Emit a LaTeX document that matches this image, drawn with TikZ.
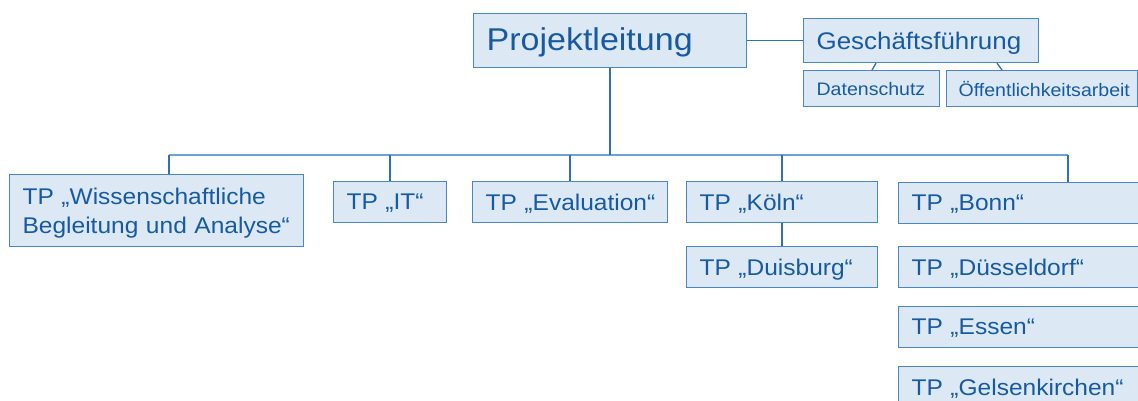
\documentclass[tikz,border=0pt]{standalone}
\usepackage{fontspec}
\setmainfont[FakeStretch=1.08]{Liberation Sans}
\usetikzlibrary{calc}
\definecolor{boxfill}{HTML}{DCE9F4}
\definecolor{boxline}{HTML}{4A87C4}
\definecolor{txt}{HTML}{175AA2}
\definecolor{conn}{HTML}{3070B5}
\definecolor{busc}{HTML}{6CA2D6}
\tikzset{
  bx/.style={draw=boxline, line width=1.2pt, fill=boxfill, text=txt, anchor=north west,
    inner xsep=13pt, inner ysep=0pt, align=left, text depth=0pt},
  tp/.style={bx, font=\fontsize{22.7}{29}\selectfont, minimum height=41},
  cn/.style={draw=conn, line width=1.3pt},
  bus/.style={draw=busc, line width=2pt}
}
\begin{document}
\begin{tikzpicture}[x=1pt,y=-1pt]
\clip (0,0) rectangle (1138,400);
\fill[white] (0,0) rectangle (1138,400);

% top level
\node[bx, font=\fontsize{31.5}{36}\selectfont, minimum width=273, text width=247, minimum height=54, text depth=3pt] (pl) at (473,13) {\mbox{Projektleitung}};
\node[bx, font=\fontsize{24}{28}\selectfont, minimum width=235, text width=209, minimum height=44] (gf) at (803,18) {\mbox{Geschäftsführung}};
\node[bx, font=\fontsize{18.1}{22}\selectfont, minimum width=136, text width=110, minimum height=36] (ds) at (803,70) {\mbox{Datenschutz}};
\node[bx, font=\fontsize{18.1}{22}\selectfont, minimum width=191, text width=167, inner xsep=12pt, minimum height=36] (oa) at (946,70) {\mbox{Öffentlichkeitsarbeit}};

% sub projects
\node[tp, minimum width=294, text width=268, minimum height=72, text depth=28pt] (wb) at (9,174) {TP „Wissenschaftliche\\Begleitung und Analyse“};
\node[tp, minimum width=113, text width=87] (it) at (333,181) {\mbox{TP „IT“}};
\node[tp, minimum width=195, text width=169] (ev) at (472,181) {\mbox{TP „Evaluation“}};
\node[tp, minimum width=191, text width=165] (kl) at (686,181) {\mbox{TP „Köln“}};
\node[tp, minimum width=191, text width=165] (du) at (686,246) {\mbox{TP „Duisburg“}};
\node[tp, minimum width=250, text width=224] (bn) at (898,182) {\mbox{TP „Bonn“}};
\node[tp, minimum width=250, text width=224] (ds2) at (898,246) {\mbox{TP „Düsseldorf“}};
\node[tp, minimum width=250, text width=224] (es) at (898,306) {\mbox{TP „Essen“}};
\node[tp, minimum width=250, text width=224] (ge) at (898,366) {\mbox{TP „Gelsenkirchen“}};

% connectors
\coordinate (busL) at (169,155);
\coordinate (busR) at (1068,155);
\coordinate (busM) at (pl.south |- busL);
\draw[cn] (pl.east) -- (gf.west);
\draw[cn] ($(gf.south west)+(73,0)$) -- ($(ds.north west)+(69,0)$);
\draw[cn] ($(gf.south west)+(194,0)$) -- ($(oa.north west)+(56,0)$);
\draw[bus] (busL) -- (busR);
\draw[cn] (pl.south) -- (busM);
\draw[cn] (busL) -- (busL |- wb.north);
\draw[cn] (it.north |- busL) -- (it.north);
\draw[cn] (ev.north |- busL) -- (ev.north);
\draw[cn] (kl.north |- busL) -- (kl.north);
\draw[cn] (kl.south) -- (du.north);
\draw[cn] (busR) -- (busR |- bn.north);
\end{tikzpicture}
\end{document}
